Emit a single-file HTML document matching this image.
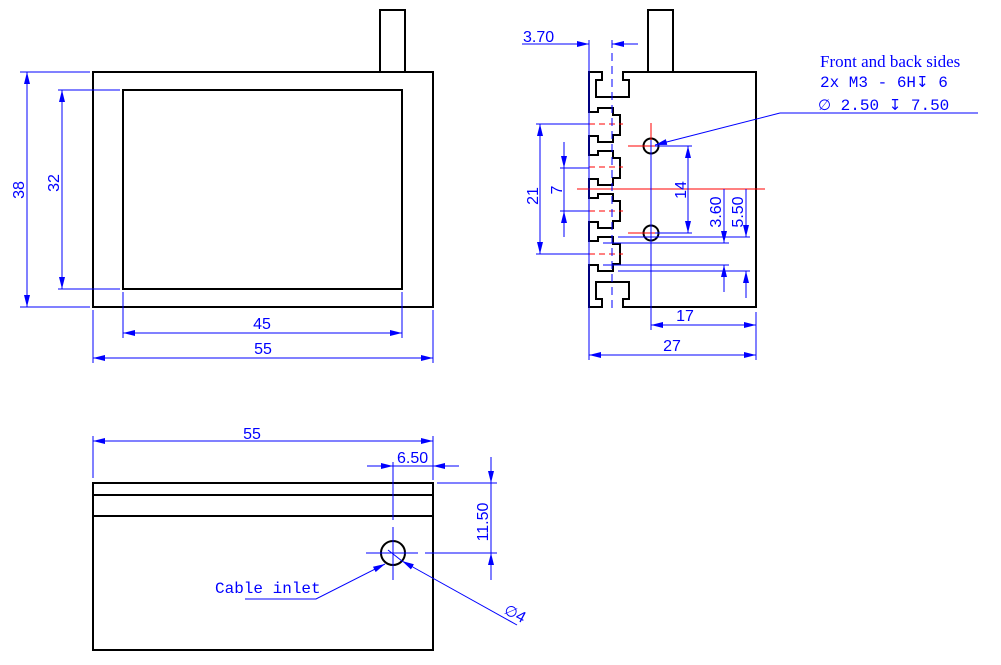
<!DOCTYPE html>
<html><head><meta charset="utf-8"><style>
html,body{margin:0;padding:0;background:#fff;}
svg{display:block}
.k{stroke:#000;stroke-width:2;fill:none}
.b{stroke:#0000ff;stroke-width:1;fill:none}
.r{stroke:#ff0000;stroke-width:1;fill:none}
.t{font-family:"Liberation Sans",sans-serif;font-size:16px;fill:#0000ff}
.m{font-family:"Liberation Mono",monospace;font-size:16px;fill:#0000ff}
.s{font-family:"Liberation Serif",serif;font-size:17px;fill:#0000ff}
.g{font-family:"DejaVu Sans",sans-serif;font-size:15px}
</style></head><body>
<svg width="1001" height="665" viewBox="0 0 1001 665" xmlns="http://www.w3.org/2000/svg">
<defs>
<marker id="a" viewBox="0 0 12 6" refX="12" refY="3" markerWidth="12" markerHeight="6" orient="auto-start-reverse" markerUnits="userSpaceOnUse"><path d="M0,0 L12,3 L0,6 z" fill="#0000ff"/></marker>
</defs>

<!-- LEFT VIEW -->
<rect x="93" y="72" width="340" height="235" class="k"/>
<rect x="123" y="90" width="279" height="199" class="k"/>
<rect x="380" y="10" width="25" height="62" class="k"/>
<line x1="20" y1="72" x2="90" y2="72" class="b"/>
<line x1="20" y1="307" x2="90" y2="307" class="b"/>
<line x1="27" y1="72" x2="27" y2="307" class="b" marker-start="url(#a)" marker-end="url(#a)"/>
<text class="t" transform="translate(24,190) rotate(-90)" text-anchor="middle">38</text>
<line x1="58" y1="90" x2="120" y2="90" class="b"/>
<line x1="58" y1="289" x2="120" y2="289" class="b"/>
<line x1="62" y1="90" x2="62" y2="289" class="b" marker-start="url(#a)" marker-end="url(#a)"/>
<text class="t" transform="translate(59,183) rotate(-90)" text-anchor="middle">32</text>
<line x1="123" y1="292" x2="123" y2="338" class="b"/>
<line x1="402" y1="292" x2="402" y2="338" class="b"/>
<line x1="123" y1="333" x2="402" y2="333" class="b" marker-start="url(#a)" marker-end="url(#a)"/>
<text class="t" x="262" y="329" text-anchor="middle">45</text>
<line x1="93" y1="310" x2="93" y2="363" class="b"/>
<line x1="433" y1="310" x2="433" y2="363" class="b"/>
<line x1="93" y1="358" x2="433" y2="358" class="b" marker-start="url(#a)" marker-end="url(#a)"/>
<text class="t" x="263" y="354" text-anchor="middle">55</text>

<!-- RIGHT VIEW -->
<rect x="648" y="10" width="25" height="62" class="k"/>
<path class="k" d="M623,72 L756,72 L756,307 L623,307 L623,299 L629,299 L629,282 L596,282 L596,299 L602,299 L602,307 L589,307 L589,265
L598,265 L598,271 L613,271 L613,264 L620,264 L620,244 L613,244 L613,237 L598,237 L598,241 L589,241 L589,222
L598,222 L598,228 L613,228 L613,221 L620,221 L620,201 L613,201 L613,194 L598,194 L598,198 L589,198 L589,179
L598,179 L598,185 L613,185 L613,178 L620,178 L620,158 L613,158 L613,151 L598,151 L598,155 L589,155 L589,136
L598,136 L598,142 L613,142 L613,135 L620,135 L620,115 L613,115 L613,108 L598,108 L598,112 L589,112 L589,72
L602,72 L602,80 L596,80 L596,97 L629,97 L629,80 L623,80 Z"/>
<circle cx="651" cy="146" r="7.5" class="k"/>
<circle cx="651" cy="233" r="7.5" class="k"/>
<line x1="577" y1="189" x2="765" y2="189" class="r"/>
<g class="r" stroke-dasharray="6,4">
<line x1="589" y1="124" x2="623" y2="124"/>
<line x1="589" y1="167" x2="623" y2="167"/>
<line x1="589" y1="211" x2="623" y2="211"/>
<line x1="589" y1="254" x2="623" y2="254"/>
</g>
<line x1="628" y1="146" x2="670" y2="146" class="r"/>
<line x1="628" y1="233" x2="675" y2="233" class="r"/>
<line x1="651" y1="123" x2="651" y2="150" class="r"/>
<line x1="651" y1="140" x2="651" y2="330" class="b"/>
<line x1="589" y1="40" x2="589" y2="360" class="b"/>
<line x1="612" y1="40" x2="612" y2="310" class="b" stroke-dasharray="8,5"/>
<line x1="522" y1="44" x2="589" y2="44" class="b" marker-end="url(#a)"/>
<line x1="638" y1="44" x2="612" y2="44" class="b" marker-end="url(#a)"/>
<text class="t" x="523" y="42">3.70</text>
<line x1="536" y1="124" x2="589" y2="124" class="b"/>
<line x1="536" y1="254" x2="589" y2="254" class="b"/>
<line x1="540" y1="124" x2="540" y2="254" class="b" marker-start="url(#a)" marker-end="url(#a)"/>
<text class="t" transform="translate(538,196) rotate(-90)" text-anchor="middle">21</text>
<line x1="560" y1="168" x2="589" y2="168" class="b"/>
<line x1="560" y1="211" x2="589" y2="211" class="b"/>
<line x1="564" y1="142" x2="564" y2="168" class="b" marker-end="url(#a)"/>
<line x1="564" y1="237" x2="564" y2="211" class="b" marker-end="url(#a)"/>
<line x1="564" y1="168" x2="564" y2="211" class="b"/>
<text class="t" transform="translate(562,190) rotate(-90)" text-anchor="middle">7</text>
<line x1="655" y1="146" x2="692" y2="146" class="b"/>
<line x1="655" y1="233" x2="692" y2="233" class="b"/>
<line x1="688" y1="146" x2="688" y2="233" class="b" marker-start="url(#a)" marker-end="url(#a)"/>
<text class="t" transform="translate(686,190) rotate(-90)" text-anchor="middle">14</text>
<line x1="618" y1="237" x2="750" y2="237" class="b"/>
<line x1="603" y1="243" x2="729" y2="243" class="b"/>
<line x1="603" y1="265" x2="729" y2="265" class="b"/>
<line x1="618" y1="271" x2="750" y2="271" class="b"/>
<line x1="724" y1="189" x2="724" y2="243" class="b" marker-end="url(#a)"/>
<line x1="724" y1="292" x2="724" y2="265" class="b" marker-end="url(#a)"/>
<line x1="746" y1="189" x2="746" y2="237" class="b" marker-end="url(#a)"/>
<line x1="746" y1="298" x2="746" y2="271" class="b" marker-end="url(#a)"/>
<text class="t" transform="translate(721,212) rotate(-90)" text-anchor="middle">3.60</text>
<text class="t" transform="translate(743,212) rotate(-90)" text-anchor="middle">5.50</text>
<line x1="756" y1="312" x2="756" y2="360" class="b"/>
<line x1="651" y1="325" x2="756" y2="325" class="b" marker-start="url(#a)" marker-end="url(#a)"/>
<text class="t" x="685" y="321" text-anchor="middle">17</text>
<line x1="589" y1="355" x2="756" y2="355" class="b" marker-start="url(#a)" marker-end="url(#a)"/>
<text class="t" x="672" y="351" text-anchor="middle">27</text>
<polyline points="780,113 978,113" class="b"/>
<line x1="780" y1="113" x2="655" y2="145" class="b" marker-end="url(#a)"/>
<text class="s" x="820" y="67">Front and back sides</text>
<text class="m" x="820" y="87">2x  M3 - 6H<tspan class="g">↧</tspan> 6</text>
<text class="m" x="818" y="110"><tspan class="g">∅</tspan> 2.50 <tspan class="g">↧</tspan> 7.50</text>

<!-- BOTTOM VIEW -->
<rect x="93" y="483" width="340" height="167" class="k"/>
<line x1="93" y1="495" x2="433" y2="495" class="k"/>
<line x1="93" y1="516" x2="433" y2="516" class="k"/>
<circle cx="393" cy="553" r="12" class="k"/>
<line x1="93" y1="436" x2="93" y2="478" class="b"/>
<line x1="433" y1="436" x2="433" y2="480" class="b"/>
<line x1="93" y1="441" x2="433" y2="441" class="b" marker-start="url(#a)" marker-end="url(#a)"/>
<text class="t" x="252" y="439" text-anchor="middle">55</text>
<line x1="393" y1="462" x2="393" y2="520" class="b"/>
<line x1="393" y1="527" x2="393" y2="580" class="b"/>
<line x1="366" y1="553" x2="418" y2="553" class="b"/>
<line x1="425" y1="553" x2="497" y2="553" class="b"/>
<line x1="367" y1="466" x2="393" y2="466" class="b" marker-end="url(#a)"/>
<line x1="459" y1="466" x2="433" y2="466" class="b" marker-end="url(#a)"/>
<line x1="393" y1="466" x2="433" y2="466" class="b"/>
<text class="t" x="397" y="463">6.50</text>
<line x1="437" y1="483" x2="497" y2="483" class="b"/>
<line x1="491" y1="457" x2="491" y2="483" class="b" marker-end="url(#a)"/>
<line x1="491" y1="580" x2="491" y2="553" class="b" marker-end="url(#a)"/>
<line x1="491" y1="483" x2="491" y2="553" class="b"/>
<text class="t" transform="translate(488,522) rotate(-90)" text-anchor="middle">11.50</text>
<polyline points="245,599 316,599 385,564" class="b" marker-end="url(#a)"/>
<text class="m" x="215" y="593">Cable inlet</text>
<line x1="517" y1="625" x2="402" y2="561" class="b" marker-end="url(#a)"/>
<line x1="388" y1="550" x2="402" y2="561" class="b"/>
<text class="t" transform="translate(503,613) rotate(28)"><tspan class="g">∅</tspan>4</text>
</svg>
</body></html>
